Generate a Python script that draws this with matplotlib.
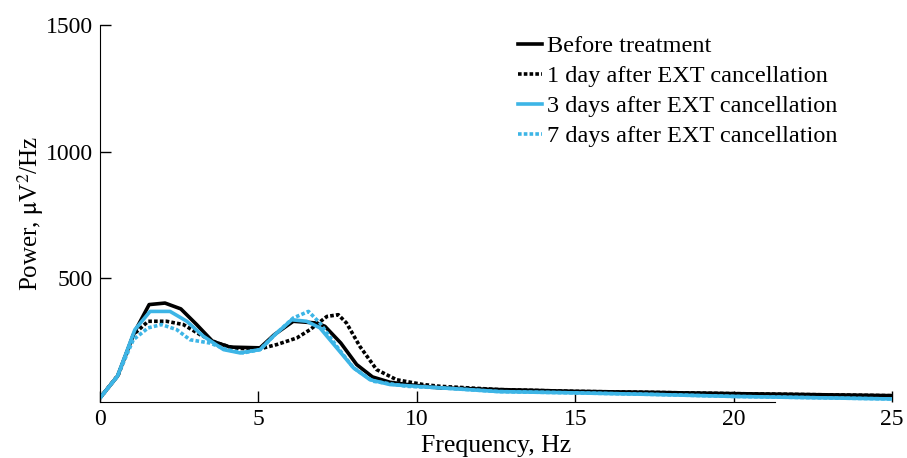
import numpy as np
import matplotlib.pyplot as plt

# Power spectra
freq = [0, 0.55, 1.1, 1.55, 2.05, 2.55, 3.05, 3.55, 4.1, 5.05, 5.5, 6.1, 6.85, 7.1,
        7.6, 8.1, 8.6, 9.15, 9.7, 10.7, 12.6, 15, 17.4, 20, 25]

before = [26, 112, 289, 395, 401, 378, 316, 250, 227, 224, 276, 329, 322, 309,
          243, 158, 109, 88, 79, 66, 59, 52, 48, 43, 35]

freq_1d = [0, 0.58, 1.05, 1.52, 2.1, 2.63, 3.16, 3.69, 4.21, 4.95, 5.58, 6.21, 6.63,
           7.16, 7.52, 7.78, 8.2, 8.73, 9.36, 10.2, 10.73, 12.6, 15, 17.4, 20, 25]
day1 = [26, 118, 276, 329, 329, 316, 276, 243, 224, 217, 237, 263, 296,
        348, 355, 322, 230, 138, 98, 79, 72, 59, 52, 48, 43, 35]

freq_3d = [0, 0.55, 1.1, 1.58, 2.21, 2.74, 3.26, 3.9, 4.42, 5.05, 5.52, 6.05, 6.52,
           6.94, 7.47, 8.0, 8.52, 9.15, 10.2, 10.73, 12.6, 15, 17.4, 20, 25]
day3 = [26, 112, 296, 368, 368, 329, 270, 217, 204, 217, 276, 335, 329,
        303, 224, 145, 98, 79, 70, 66, 51, 46, 40, 32, 22]

freq_7d = [0, 0.55, 1.05, 1.52, 1.94, 2.42, 2.84, 3.47, 4.0, 4.52, 5.05, 5.58, 6.1,
           6.58, 6.94, 7.47, 8.0, 8.62, 9.68, 10.73, 12.6, 15, 17.4, 20, 25]
day7 = [26, 112, 256, 303, 316, 296, 256, 243, 217, 204, 217, 283, 342,
        368, 322, 230, 145, 92, 72, 66, 51, 46, 40, 32, 22]

labels = ['Before treatment', '1 day after EXT cancellation',
          '3 days after EXT cancellation', '7 days after EXT cancellation']

blue = '#3db5e6'
dots = (0, (1, 0.6))

plt.rcParams['font.family'] = ['Liberation Serif', 'DejaVu Serif']
plt.rcParams['mathtext.fontset'] = 'stix'

fig = plt.figure(figsize=(9.07, 4.58), dpi=100)
ax = fig.add_axes([0.1103, 0.1223, 0.8732, 0.8231])

ax.plot(freq, before, color='black', lw=2.6, label=labels[0])
ax.plot(freq_1d, day1, color='black', lw=2.6, ls=dots, label=labels[1])
ax.plot(freq_3d, day3, color=blue, lw=2.6, label=labels[2])
ax.plot(freq_7d, day7, color=blue, lw=2.6, ls=dots, label=labels[3])

ax.set_xlim(0, 25)
ax.set_ylim(10, 1500)
ax.set_xticks([0, 5, 10, 15, 20, 25])
ax.set_yticks([500, 1000, 1500])
ax.tick_params(direction='in', length=8, width=1, labelsize=17, pad=5)

for side in ['top', 'right']:
    ax.spines[side].set_visible(False)
ax.spines['bottom'].set_bounds(0, 21.3)

ax.set_xlabel('Frequency, Hz', fontsize=18.5, labelpad=4)
ax.set_ylabel(r'Power, $\mathrm{\mu}$V$^2$/Hz', fontsize=18, labelpad=0)

leg = ax.legend(loc='upper left', bbox_to_anchor=(518 / 907, 1 - 35 / 458),
                bbox_transform=fig.transFigure, frameon=False, fontsize=17.5,
                handlelength=1.0, handletextpad=0.2, labelspacing=0.33,
                borderpad=0, borderaxespad=0)

fig.savefig('out.png', dpi=100)
